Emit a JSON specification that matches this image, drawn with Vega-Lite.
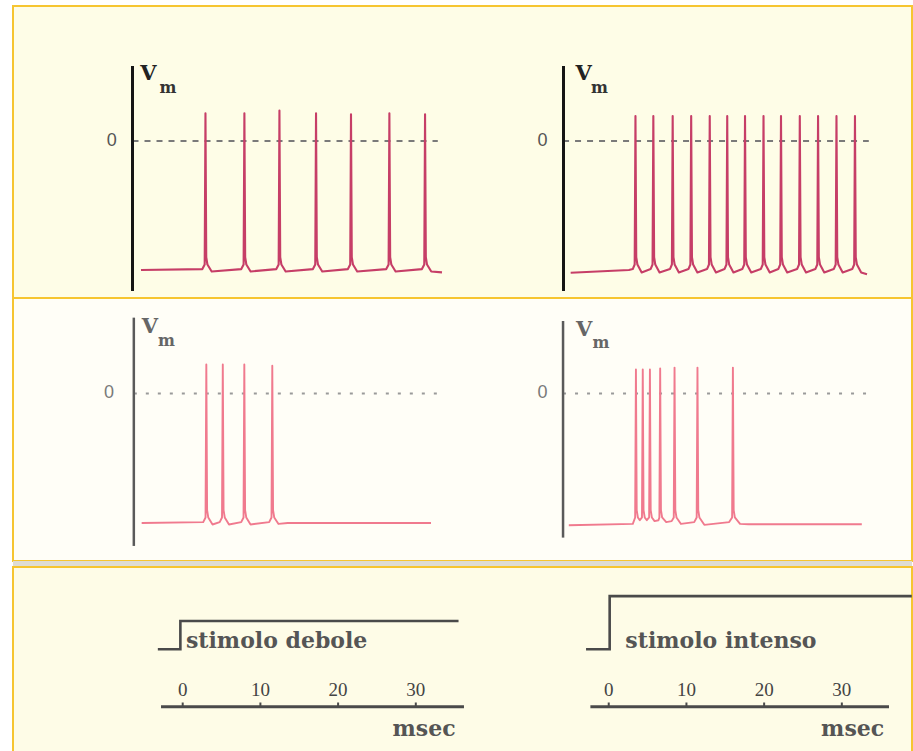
{
  "$schema": "https://vega.github.io/schema/vega-lite/v6.json",
  "background": "white",
  "padding": {"left": 12, "top": 5, "right": 2, "bottom": 0},
  "bounds": "flush",
  "spacing": 0,
  "config": {"view": {"stroke": null}},
  "datasets": {
    "traces": [
      {"p":"A","t":-5.37,"v":-70},
      {"p":"A","t":2.53,"v":-69.5},{"p":"A","t":2.83,"v":-67},{"p":"A","t":2.93,"v":15},{"p":"A","t":3.03,"v":-63},{"p":"A","t":3.18,"v":-67},{"p":"A","t":3.73,"v":-70.8},
      {"p":"A","t":7.54,"v":-69.5},{"p":"A","t":7.84,"v":-67},{"p":"A","t":7.94,"v":15},{"p":"A","t":8.04,"v":-63},{"p":"A","t":8.19,"v":-67},{"p":"A","t":8.74,"v":-70.8},
      {"p":"A","t":12.05,"v":-69.5},{"p":"A","t":12.35,"v":-67},{"p":"A","t":12.45,"v":16.5},{"p":"A","t":12.55,"v":-63},{"p":"A","t":12.7,"v":-67},{"p":"A","t":13.25,"v":-70.8},
      {"p":"A","t":16.76,"v":-69.5},{"p":"A","t":17.06,"v":-67},{"p":"A","t":17.16,"v":15},{"p":"A","t":17.26,"v":-63},{"p":"A","t":17.41,"v":-67},{"p":"A","t":17.96,"v":-70.8},
      {"p":"A","t":21.26,"v":-69.5},{"p":"A","t":21.56,"v":-67},{"p":"A","t":21.66,"v":14.5},{"p":"A","t":21.76,"v":-63},{"p":"A","t":21.91,"v":-67},{"p":"A","t":22.46,"v":-70.8},
      {"p":"A","t":26.2,"v":-69.5},{"p":"A","t":26.5,"v":-67},{"p":"A","t":26.6,"v":15},{"p":"A","t":26.7,"v":-63},{"p":"A","t":26.85,"v":-67},{"p":"A","t":27.4,"v":-70.8},
      {"p":"A","t":30.79,"v":-69.5},{"p":"A","t":31.09,"v":-67},{"p":"A","t":31.19,"v":14.5},{"p":"A","t":31.29,"v":-63},{"p":"A","t":31.44,"v":-67},{"p":"A","t":31.99,"v":-70.8},
      {"p":"A","t":33.37,"v":-71.3},

      {"p":"B","t":-4.9,"v":-71.5},{"p":"B","t":2.6,"v":-70},
      {"p":"B","t":3.09,"v":-69.5},{"p":"B","t":3.34,"v":-67},{"p":"B","t":3.44,"v":13.5},{"p":"B","t":3.54,"v":-63},{"p":"B","t":3.69,"v":-67},{"p":"B","t":4.24,"v":-71.3},
      {"p":"B","t":5.39,"v":-69.5},{"p":"B","t":5.64,"v":-67},{"p":"B","t":5.74,"v":13.5},{"p":"B","t":5.84,"v":-63},{"p":"B","t":5.99,"v":-67},{"p":"B","t":6.54,"v":-71.3},
      {"p":"B","t":7.88,"v":-69.5},{"p":"B","t":8.13,"v":-67},{"p":"B","t":8.23,"v":13.5},{"p":"B","t":8.33,"v":-63},{"p":"B","t":8.48,"v":-67},{"p":"B","t":9.03,"v":-71.3},
      {"p":"B","t":10.26,"v":-69.5},{"p":"B","t":10.51,"v":-67},{"p":"B","t":10.61,"v":13.5},{"p":"B","t":10.71,"v":-63},{"p":"B","t":10.86,"v":-67},{"p":"B","t":11.41,"v":-71.3},
      {"p":"B","t":12.65,"v":-69.5},{"p":"B","t":12.9,"v":-67},{"p":"B","t":13.0,"v":13.5},{"p":"B","t":13.1,"v":-63},{"p":"B","t":13.25,"v":-67},{"p":"B","t":13.8,"v":-71.3},
      {"p":"B","t":14.9,"v":-69.5},{"p":"B","t":15.15,"v":-67},{"p":"B","t":15.25,"v":13.5},{"p":"B","t":15.35,"v":-63},{"p":"B","t":15.5,"v":-67},{"p":"B","t":16.05,"v":-71.3},
      {"p":"B","t":17.19,"v":-69.5},{"p":"B","t":17.44,"v":-67},{"p":"B","t":17.54,"v":13.5},{"p":"B","t":17.64,"v":-63},{"p":"B","t":17.79,"v":-67},{"p":"B","t":18.34,"v":-71.3},
      {"p":"B","t":19.57,"v":-69.5},{"p":"B","t":19.82,"v":-67},{"p":"B","t":19.92,"v":13.5},{"p":"B","t":20.02,"v":-63},{"p":"B","t":20.17,"v":-67},{"p":"B","t":20.72,"v":-71.3},
      {"p":"B","t":21.82,"v":-69.5},{"p":"B","t":22.07,"v":-67},{"p":"B","t":22.17,"v":13.5},{"p":"B","t":22.27,"v":-63},{"p":"B","t":22.42,"v":-67},{"p":"B","t":22.97,"v":-71.3},
      {"p":"B","t":24.24,"v":-69.5},{"p":"B","t":24.49,"v":-67},{"p":"B","t":24.59,"v":13.5},{"p":"B","t":24.69,"v":-63},{"p":"B","t":24.84,"v":-67},{"p":"B","t":25.39,"v":-71.3},
      {"p":"B","t":26.59,"v":-69.5},{"p":"B","t":26.84,"v":-67},{"p":"B","t":26.94,"v":13.5},{"p":"B","t":27.04,"v":-63},{"p":"B","t":27.19,"v":-67},{"p":"B","t":27.74,"v":-71.3},
      {"p":"B","t":28.96,"v":-69.5},{"p":"B","t":29.21,"v":-67},{"p":"B","t":29.31,"v":13.5},{"p":"B","t":29.41,"v":-63},{"p":"B","t":29.56,"v":-67},{"p":"B","t":30.11,"v":-71.3},
      {"p":"B","t":31.34,"v":-69.5},{"p":"B","t":31.59,"v":-67},{"p":"B","t":31.69,"v":13.5},{"p":"B","t":31.79,"v":-63},{"p":"B","t":31.94,"v":-67},{"p":"B","t":32.49,"v":-71.3},
      {"p":"B","t":33.24,"v":-72.3},

      {"p":"C","t":-5.28,"v":-70},
      {"p":"C","t":2.64,"v":-69.5},{"p":"C","t":2.94,"v":-67},{"p":"C","t":3.04,"v":15.7},{"p":"C","t":3.14,"v":-63},{"p":"C","t":3.29,"v":-67},{"p":"C","t":3.84,"v":-70.8},
      {"p":"C","t":4.76,"v":-69.5},{"p":"C","t":5.06,"v":-67},{"p":"C","t":5.16,"v":15.7},{"p":"C","t":5.26,"v":-63},{"p":"C","t":5.41,"v":-67},{"p":"C","t":5.96,"v":-70.8},
      {"p":"C","t":7.53,"v":-69.5},{"p":"C","t":7.83,"v":-67},{"p":"C","t":7.93,"v":15.7},{"p":"C","t":8.03,"v":-63},{"p":"C","t":8.18,"v":-67},{"p":"C","t":8.73,"v":-70.8},
      {"p":"C","t":11.13,"v":-69.5},{"p":"C","t":11.43,"v":-67},{"p":"C","t":11.53,"v":15},{"p":"C","t":11.63,"v":-63},{"p":"C","t":11.78,"v":-67},{"p":"C","t":12.33,"v":-70.5},
      {"p":"C","t":13.5,"v":-70},{"p":"C","t":31.96,"v":-70},

      {"p":"D","t":-5.14,"v":-71.2},{"p":"D","t":3.1,"v":-70.5},
      {"p":"D","t":3.4,"v":-67},{"p":"D","t":3.5,"v":13},{"p":"D","t":3.6,"v":-63},{"p":"D","t":3.75,"v":-67},{"p":"D","t":4.0,"v":-68.5},
      {"p":"D","t":4.28,"v":-67},{"p":"D","t":4.38,"v":13},{"p":"D","t":4.48,"v":-63},{"p":"D","t":4.63,"v":-67},{"p":"D","t":4.9,"v":-68.5},
      {"p":"D","t":5.2,"v":-67},{"p":"D","t":5.3,"v":13},{"p":"D","t":5.4,"v":-63},{"p":"D","t":5.55,"v":-67},{"p":"D","t":5.9,"v":-69},
      {"p":"D","t":6.4,"v":-68.5},{"p":"D","t":6.52,"v":-67},{"p":"D","t":6.62,"v":13.5},{"p":"D","t":6.72,"v":-63},{"p":"D","t":6.87,"v":-67},{"p":"D","t":7.4,"v":-69.5},
      {"p":"D","t":8.1,"v":-69},{"p":"D","t":8.37,"v":-67},{"p":"D","t":8.47,"v":14},{"p":"D","t":8.57,"v":-63},{"p":"D","t":8.72,"v":-67},{"p":"D","t":9.3,"v":-70.5},
      {"p":"D","t":11.0,"v":-69.5},{"p":"D","t":11.32,"v":-67},{"p":"D","t":11.42,"v":14},{"p":"D","t":11.52,"v":-63},{"p":"D","t":11.67,"v":-67},{"p":"D","t":12.3,"v":-71},
      {"p":"D","t":15.5,"v":-69.5},{"p":"D","t":15.88,"v":-67},{"p":"D","t":15.98,"v":14},{"p":"D","t":16.08,"v":-63},{"p":"D","t":16.23,"v":-67},{"p":"D","t":16.9,"v":-70.5},
      {"p":"D","t":18.0,"v":-70.7},{"p":"D","t":32.57,"v":-70.7}
    ],
    "zero": [
      {"p":"A","t0":-6.46,"t1":32.83,"v":0},
      {"p":"B","t0":-5.88,"t1":33.47,"v":0},
      {"p":"C","t0":-6.29,"t1":32.83,"v":0},
      {"p":"D","t0":-5.88,"t1":33.47,"v":0}
    ],
    "vaxis": [
      {"p":"A","t":-6.46,"v1":40.7,"v2":-81.4},
      {"p":"B","t":-5.82,"v1":40.7,"v2":-81.4},
      {"p":"C","t":-6.29,"v1":41,"v2":-82.4},
      {"p":"D","t":-5.88,"v1":39.2,"v2":-77.9}
    ],
    "zlabel": [
      {"p":"A","t":-9.12,"v":0,"label":"0"},
      {"p":"B","t":-8.51,"v":0,"label":"0"},
      {"p":"C","t":-9.48,"v":0,"label":"0"},
      {"p":"D","t":-8.51,"v":0,"label":"0"}
    ],
    "vlabel": [
      {"p":"A","t":-4.4,"v":36.6,"label":"V"},
      {"p":"B","t":-3.24,"v":36.6,"label":"V"},
      {"p":"C","t":-4.21,"v":36.2,"label":"V"},
      {"p":"D","t":-3.18,"v":34.3,"label":"V"}
    ],
    "mlabel": [
      {"p":"A","t":-1.89,"v":28.9,"label":"m"},
      {"p":"B","t":-1.18,"v":28.9,"label":"m"},
      {"p":"C","t":-2.08,"v":28.4,"label":"m"},
      {"p":"D","t":-0.99,"v":27.3,"label":"m"}
    ],
    "stim": [
      {"p":"E","i":1,"t":-3.2,"v":0},{"p":"E","i":2,"t":-0.3,"v":0},{"p":"E","i":3,"t":-0.3,"v":1},{"p":"E","i":4,"t":35.5,"v":1},
      {"p":"F","i":1,"t":-2.92,"v":0},{"p":"F","i":2,"t":0.12,"v":0},{"p":"F","i":3,"t":0.12,"v":1.88},{"p":"F","i":4,"t":39.0,"v":1.88}
    ],
    "taxis": [
      {"p":"E","t0":-2.79,"t1":36.2,"v":-2.03},
      {"p":"F","t0":-2.36,"t1":36.07,"v":-2.03}
    ],
    "ticks": [
      {"p":"E","t":0,"v1":-1.88,"v2":-2.03,"label":"0"},{"p":"E","t":10,"v1":-1.88,"v2":-2.03,"label":"10"},{"p":"E","t":20,"v1":-1.88,"v2":-2.03,"label":"20"},{"p":"E","t":30,"v1":-1.88,"v2":-2.03,"label":"30"},
      {"p":"F","t":0,"v1":-1.88,"v2":-2.03,"label":"0"},{"p":"F","t":10,"v1":-1.88,"v2":-2.03,"label":"10"},{"p":"F","t":20,"v1":-1.88,"v2":-2.03,"label":"20"},{"p":"F","t":30,"v1":-1.88,"v2":-2.03,"label":"30"}
    ],
    "stext": [
      {"p":"E","t":0.42,"v":0.29,"label":"stimolo debole"},
      {"p":"F","t":2.14,"v":0.29,"label":"stimolo intenso"}
    ],
    "msec": [
      {"p":"E","t":31.06,"v":-2.82,"label":"msec"},
      {"p":"F","t":31.39,"v":-2.82,"label":"msec"}
    ]
  },
  "vconcat": [
    {
      "width": 899, "height": 292,
      "view": {"fill": "#fefde7", "stroke": "#f6c531", "strokeWidth": 2},
      "resolve": {"scale": {"x": "independent"}},
      "layer": [
        {"data": {"name": "zero"}, "transform": [{"filter": "datum.p == 'A'"}],
         "mark": {"type": "rule", "color": "#7a7a7a", "strokeWidth": 2, "strokeDash": [6, 6]},
         "encoding": {"x": {"field": "t0", "type": "quantitative", "scale": {"domain": [-21.84, 93.86], "nice": false, "zero": false}, "axis": null}, "x2": {"field": "t1"},
                      "y": {"field": "v", "type": "quantitative", "scale": {"domain": [-85.19, 73.25], "nice": false, "zero": false}, "axis": null}}},
        {"data": {"name": "zero"}, "transform": [{"filter": "datum.p == 'B'"}],
         "mark": {"type": "rule", "color": "#7a7a7a", "strokeWidth": 2, "strokeDash": [6, 6]},
         "encoding": {"x": {"field": "t0", "type": "quantitative", "scale": {"domain": [-76.67, 39.03], "nice": false, "zero": false}, "axis": null}, "x2": {"field": "t1"},
                      "y": {"field": "v", "type": "quantitative", "scale": {"domain": [-85.19, 73.25], "nice": false, "zero": false}, "axis": null}}},
        {"data": {"name": "vaxis"}, "transform": [{"filter": "datum.p == 'A'"}],
         "mark": {"type": "rule", "color": "#151515", "strokeWidth": 3},
         "encoding": {"x": {"field": "t", "type": "quantitative", "scale": {"domain": [-21.84, 93.86], "nice": false, "zero": false}, "axis": null},
                      "y": {"field": "v1", "type": "quantitative", "scale": {"domain": [-85.19, 73.25], "nice": false, "zero": false}, "axis": null}, "y2": {"field": "v2"}}},
        {"data": {"name": "vaxis"}, "transform": [{"filter": "datum.p == 'B'"}],
         "mark": {"type": "rule", "color": "#151515", "strokeWidth": 3},
         "encoding": {"x": {"field": "t", "type": "quantitative", "scale": {"domain": [-76.67, 39.03], "nice": false, "zero": false}, "axis": null},
                      "y": {"field": "v1", "type": "quantitative", "scale": {"domain": [-85.19, 73.25], "nice": false, "zero": false}, "axis": null}, "y2": {"field": "v2"}}},
        {"data": {"name": "traces"}, "transform": [{"filter": "datum.p == 'A'"}],
         "mark": {"type": "line", "color": "#c63e67", "strokeWidth": 2.1, "strokeJoin": "round"},
         "encoding": {"x": {"field": "t", "type": "quantitative", "scale": {"domain": [-21.84, 93.86], "nice": false, "zero": false}, "axis": null},
                      "y": {"field": "v", "type": "quantitative", "scale": {"domain": [-85.19, 73.25], "nice": false, "zero": false}, "axis": null}}},
        {"data": {"name": "traces"}, "transform": [{"filter": "datum.p == 'B'"}],
         "mark": {"type": "line", "color": "#c63e67", "strokeWidth": 2.1, "strokeJoin": "round"},
         "encoding": {"x": {"field": "t", "type": "quantitative", "scale": {"domain": [-76.67, 39.03], "nice": false, "zero": false}, "axis": null},
                      "y": {"field": "v", "type": "quantitative", "scale": {"domain": [-85.19, 73.25], "nice": false, "zero": false}, "axis": null}}},
        {"data": {"name": "zlabel"}, "transform": [{"filter": "datum.p == 'A'"}],
         "mark": {"type": "text", "font": "Liberation Sans", "fontSize": 18, "color": "#555", "align": "center", "baseline": "middle"},
         "encoding": {"x": {"field": "t", "type": "quantitative", "scale": {"domain": [-21.84, 93.86], "nice": false, "zero": false}, "axis": null},
                      "y": {"field": "v", "type": "quantitative", "scale": {"domain": [-85.19, 73.25], "nice": false, "zero": false}, "axis": null}, "text": {"field": "label"}}},
        {"data": {"name": "zlabel"}, "transform": [{"filter": "datum.p == 'B'"}],
         "mark": {"type": "text", "font": "Liberation Sans", "fontSize": 18, "color": "#555", "align": "center", "baseline": "middle"},
         "encoding": {"x": {"field": "t", "type": "quantitative", "scale": {"domain": [-76.67, 39.03], "nice": false, "zero": false}, "axis": null},
                      "y": {"field": "v", "type": "quantitative", "scale": {"domain": [-85.19, 73.25], "nice": false, "zero": false}, "axis": null}, "text": {"field": "label"}}},
        {"data": {"name": "vlabel"}, "transform": [{"filter": "datum.p == 'A'"}],
         "mark": {"type": "text", "font": "DejaVu Serif", "fontWeight": "bold", "fontSize": 21, "color": "#222", "align": "center", "baseline": "middle"},
         "encoding": {"x": {"field": "t", "type": "quantitative", "scale": {"domain": [-21.84, 93.86], "nice": false, "zero": false}, "axis": null},
                      "y": {"field": "v", "type": "quantitative", "scale": {"domain": [-85.19, 73.25], "nice": false, "zero": false}, "axis": null}, "text": {"field": "label"}}},
        {"data": {"name": "vlabel"}, "transform": [{"filter": "datum.p == 'B'"}],
         "mark": {"type": "text", "font": "DejaVu Serif", "fontWeight": "bold", "fontSize": 21, "color": "#222", "align": "center", "baseline": "middle"},
         "encoding": {"x": {"field": "t", "type": "quantitative", "scale": {"domain": [-76.67, 39.03], "nice": false, "zero": false}, "axis": null},
                      "y": {"field": "v", "type": "quantitative", "scale": {"domain": [-85.19, 73.25], "nice": false, "zero": false}, "axis": null}, "text": {"field": "label"}}},
        {"data": {"name": "mlabel"}, "transform": [{"filter": "datum.p == 'A'"}],
         "mark": {"type": "text", "font": "DejaVu Serif", "fontWeight": "bold", "fontSize": 16, "color": "#333", "align": "center", "baseline": "middle"},
         "encoding": {"x": {"field": "t", "type": "quantitative", "scale": {"domain": [-21.84, 93.86], "nice": false, "zero": false}, "axis": null},
                      "y": {"field": "v", "type": "quantitative", "scale": {"domain": [-85.19, 73.25], "nice": false, "zero": false}, "axis": null}, "text": {"field": "label"}}},
        {"data": {"name": "mlabel"}, "transform": [{"filter": "datum.p == 'B'"}],
         "mark": {"type": "text", "font": "DejaVu Serif", "fontWeight": "bold", "fontSize": 16, "color": "#333", "align": "center", "baseline": "middle"},
         "encoding": {"x": {"field": "t", "type": "quantitative", "scale": {"domain": [-76.67, 39.03], "nice": false, "zero": false}, "axis": null},
                      "y": {"field": "v", "type": "quantitative", "scale": {"domain": [-85.19, 73.25], "nice": false, "zero": false}, "axis": null}, "text": {"field": "label"}}}
      ]
    },
    {
      "width": 899, "height": 263,
      "view": {"fill": "#fffef7", "stroke": "#f6c531", "strokeWidth": 2},
      "resolve": {"scale": {"x": "independent"}},
      "layer": [
        {"data": {"name": "zero"}, "transform": [{"filter": "datum.p == 'C'"}],
         "mark": {"type": "rule", "color": "#9a9a9a", "strokeWidth": 2, "strokeDash": [3, 9]},
         "encoding": {"x": {"field": "t0", "type": "quantitative", "scale": {"domain": [-21.84, 93.86], "nice": false, "zero": false}, "axis": null}, "x2": {"field": "t1"},
                      "y": {"field": "v", "type": "quantitative", "scale": {"domain": [-90.54, 51.62], "nice": false, "zero": false}, "axis": null}}},
        {"data": {"name": "zero"}, "transform": [{"filter": "datum.p == 'D'"}],
         "mark": {"type": "rule", "color": "#9a9a9a", "strokeWidth": 2, "strokeDash": [3, 9]},
         "encoding": {"x": {"field": "t0", "type": "quantitative", "scale": {"domain": [-76.67, 39.03], "nice": false, "zero": false}, "axis": null}, "x2": {"field": "t1"},
                      "y": {"field": "v", "type": "quantitative", "scale": {"domain": [-90.54, 51.62], "nice": false, "zero": false}, "axis": null}}},
        {"data": {"name": "vaxis"}, "transform": [{"filter": "datum.p == 'C'"}],
         "mark": {"type": "rule", "color": "#5a5a5a", "strokeWidth": 2.5},
         "encoding": {"x": {"field": "t", "type": "quantitative", "scale": {"domain": [-21.84, 93.86], "nice": false, "zero": false}, "axis": null},
                      "y": {"field": "v1", "type": "quantitative", "scale": {"domain": [-90.54, 51.62], "nice": false, "zero": false}, "axis": null}, "y2": {"field": "v2"}}},
        {"data": {"name": "vaxis"}, "transform": [{"filter": "datum.p == 'D'"}],
         "mark": {"type": "rule", "color": "#5a5a5a", "strokeWidth": 2.5},
         "encoding": {"x": {"field": "t", "type": "quantitative", "scale": {"domain": [-76.67, 39.03], "nice": false, "zero": false}, "axis": null},
                      "y": {"field": "v1", "type": "quantitative", "scale": {"domain": [-90.54, 51.62], "nice": false, "zero": false}, "axis": null}, "y2": {"field": "v2"}}},
        {"data": {"name": "traces"}, "transform": [{"filter": "datum.p == 'C'"}],
         "mark": {"type": "line", "color": "#f07a8e", "strokeWidth": 1.9, "strokeJoin": "round"},
         "encoding": {"x": {"field": "t", "type": "quantitative", "scale": {"domain": [-21.84, 93.86], "nice": false, "zero": false}, "axis": null},
                      "y": {"field": "v", "type": "quantitative", "scale": {"domain": [-90.54, 51.62], "nice": false, "zero": false}, "axis": null}}},
        {"data": {"name": "traces"}, "transform": [{"filter": "datum.p == 'D'"}],
         "mark": {"type": "line", "color": "#f07a8e", "strokeWidth": 1.9, "strokeJoin": "round"},
         "encoding": {"x": {"field": "t", "type": "quantitative", "scale": {"domain": [-76.67, 39.03], "nice": false, "zero": false}, "axis": null},
                      "y": {"field": "v", "type": "quantitative", "scale": {"domain": [-90.54, 51.62], "nice": false, "zero": false}, "axis": null}}},
        {"data": {"name": "zlabel"}, "transform": [{"filter": "datum.p == 'C'"}],
         "mark": {"type": "text", "font": "Liberation Sans", "fontSize": 18, "color": "#7a7a7a", "align": "center", "baseline": "middle"},
         "encoding": {"x": {"field": "t", "type": "quantitative", "scale": {"domain": [-21.84, 93.86], "nice": false, "zero": false}, "axis": null},
                      "y": {"field": "v", "type": "quantitative", "scale": {"domain": [-90.54, 51.62], "nice": false, "zero": false}, "axis": null}, "text": {"field": "label"}}},
        {"data": {"name": "zlabel"}, "transform": [{"filter": "datum.p == 'D'"}],
         "mark": {"type": "text", "font": "Liberation Sans", "fontSize": 18, "color": "#7a7a7a", "align": "center", "baseline": "middle"},
         "encoding": {"x": {"field": "t", "type": "quantitative", "scale": {"domain": [-76.67, 39.03], "nice": false, "zero": false}, "axis": null},
                      "y": {"field": "v", "type": "quantitative", "scale": {"domain": [-90.54, 51.62], "nice": false, "zero": false}, "axis": null}, "text": {"field": "label"}}},
        {"data": {"name": "vlabel"}, "transform": [{"filter": "datum.p == 'C'"}],
         "mark": {"type": "text", "font": "DejaVu Serif", "fontWeight": "bold", "fontSize": 21, "color": "#666", "align": "center", "baseline": "middle"},
         "encoding": {"x": {"field": "t", "type": "quantitative", "scale": {"domain": [-21.84, 93.86], "nice": false, "zero": false}, "axis": null},
                      "y": {"field": "v", "type": "quantitative", "scale": {"domain": [-90.54, 51.62], "nice": false, "zero": false}, "axis": null}, "text": {"field": "label"}}},
        {"data": {"name": "vlabel"}, "transform": [{"filter": "datum.p == 'D'"}],
         "mark": {"type": "text", "font": "DejaVu Serif", "fontWeight": "bold", "fontSize": 21, "color": "#666", "align": "center", "baseline": "middle"},
         "encoding": {"x": {"field": "t", "type": "quantitative", "scale": {"domain": [-76.67, 39.03], "nice": false, "zero": false}, "axis": null},
                      "y": {"field": "v", "type": "quantitative", "scale": {"domain": [-90.54, 51.62], "nice": false, "zero": false}, "axis": null}, "text": {"field": "label"}}},
        {"data": {"name": "mlabel"}, "transform": [{"filter": "datum.p == 'C'"}],
         "mark": {"type": "text", "font": "DejaVu Serif", "fontWeight": "bold", "fontSize": 16, "color": "#666", "align": "center", "baseline": "middle"},
         "encoding": {"x": {"field": "t", "type": "quantitative", "scale": {"domain": [-21.84, 93.86], "nice": false, "zero": false}, "axis": null},
                      "y": {"field": "v", "type": "quantitative", "scale": {"domain": [-90.54, 51.62], "nice": false, "zero": false}, "axis": null}, "text": {"field": "label"}}},
        {"data": {"name": "mlabel"}, "transform": [{"filter": "datum.p == 'D'"}],
         "mark": {"type": "text", "font": "DejaVu Serif", "fontWeight": "bold", "fontSize": 16, "color": "#666", "align": "center", "baseline": "middle"},
         "encoding": {"x": {"field": "t", "type": "quantitative", "scale": {"domain": [-76.67, 39.03], "nice": false, "zero": false}, "axis": null},
                      "y": {"field": "v", "type": "quantitative", "scale": {"domain": [-90.54, 51.62], "nice": false, "zero": false}, "axis": null}, "text": {"field": "label"}}}
      ]
    },
    {
      "width": 899, "height": 6,
      "view": {"fill": "#dedcd4", "stroke": null},
      "data": {"values": [{"a": 1}]},
      "mark": {"type": "point", "opacity": 0},
      "encoding": {}
    },
    {
      "width": 899, "height": 185,
      "view": {"fill": "#fefce7", "stroke": "#f6c531", "strokeWidth": 2},
      "resolve": {"scale": {"x": "independent"}},
      "layer": [
        {"data": {"name": "stim"}, "transform": [{"filter": "datum.p == 'E'"}],
         "mark": {"type": "line", "color": "#4a4a4a", "strokeWidth": 2.6},
         "encoding": {"x": {"field": "t", "type": "quantitative", "scale": {"domain": [-21.84, 93.86], "nice": false, "zero": false}, "axis": null},
                      "y": {"field": "v", "type": "quantitative", "scale": {"domain": [-3.63, 2.91], "nice": false, "zero": false}, "axis": null},
                      "order": {"field": "i", "type": "quantitative"}}},
        {"data": {"name": "stim"}, "transform": [{"filter": "datum.p == 'F'"}],
         "mark": {"type": "line", "color": "#4a4a4a", "strokeWidth": 2.6},
         "encoding": {"x": {"field": "t", "type": "quantitative", "scale": {"domain": [-76.67, 39.03], "nice": false, "zero": false}, "axis": null},
                      "y": {"field": "v", "type": "quantitative", "scale": {"domain": [-3.63, 2.91], "nice": false, "zero": false}, "axis": null},
                      "order": {"field": "i", "type": "quantitative"}}},
        {"data": {"name": "taxis"}, "transform": [{"filter": "datum.p == 'E'"}],
         "mark": {"type": "rule", "color": "#4a4a4a", "strokeWidth": 3},
         "encoding": {"x": {"field": "t0", "type": "quantitative", "scale": {"domain": [-21.84, 93.86], "nice": false, "zero": false}, "axis": null}, "x2": {"field": "t1"},
                      "y": {"field": "v", "type": "quantitative", "scale": {"domain": [-3.63, 2.91], "nice": false, "zero": false}, "axis": null}}},
        {"data": {"name": "taxis"}, "transform": [{"filter": "datum.p == 'F'"}],
         "mark": {"type": "rule", "color": "#4a4a4a", "strokeWidth": 3},
         "encoding": {"x": {"field": "t0", "type": "quantitative", "scale": {"domain": [-76.67, 39.03], "nice": false, "zero": false}, "axis": null}, "x2": {"field": "t1"},
                      "y": {"field": "v", "type": "quantitative", "scale": {"domain": [-3.63, 2.91], "nice": false, "zero": false}, "axis": null}}},
        {"data": {"name": "ticks"}, "transform": [{"filter": "datum.p == 'E'"}],
         "mark": {"type": "rule", "color": "#4a4a4a", "strokeWidth": 2},
         "encoding": {"x": {"field": "t", "type": "quantitative", "scale": {"domain": [-21.84, 93.86], "nice": false, "zero": false}, "axis": null},
                      "y": {"field": "v1", "type": "quantitative", "scale": {"domain": [-3.63, 2.91], "nice": false, "zero": false}, "axis": null}, "y2": {"field": "v2"}}},
        {"data": {"name": "ticks"}, "transform": [{"filter": "datum.p == 'F'"}],
         "mark": {"type": "rule", "color": "#4a4a4a", "strokeWidth": 2},
         "encoding": {"x": {"field": "t", "type": "quantitative", "scale": {"domain": [-76.67, 39.03], "nice": false, "zero": false}, "axis": null},
                      "y": {"field": "v1", "type": "quantitative", "scale": {"domain": [-3.63, 2.91], "nice": false, "zero": false}, "axis": null}, "y2": {"field": "v2"}}},
        {"data": {"name": "ticks"}, "transform": [{"filter": "datum.p == 'E'"}],
         "mark": {"type": "text", "font": "Liberation Serif", "fontSize": 19, "color": "#444", "align": "center", "baseline": "middle", "dy": -17},
         "encoding": {"x": {"field": "t", "type": "quantitative", "scale": {"domain": [-21.84, 93.86], "nice": false, "zero": false}, "axis": null},
                      "y": {"field": "v2", "type": "quantitative", "scale": {"domain": [-3.63, 2.91], "nice": false, "zero": false}, "axis": null}, "text": {"field": "label"}}},
        {"data": {"name": "ticks"}, "transform": [{"filter": "datum.p == 'F'"}],
         "mark": {"type": "text", "font": "Liberation Serif", "fontSize": 19, "color": "#444", "align": "center", "baseline": "middle", "dy": -17},
         "encoding": {"x": {"field": "t", "type": "quantitative", "scale": {"domain": [-76.67, 39.03], "nice": false, "zero": false}, "axis": null},
                      "y": {"field": "v2", "type": "quantitative", "scale": {"domain": [-3.63, 2.91], "nice": false, "zero": false}, "axis": null}, "text": {"field": "label"}}},
        {"data": {"name": "stext"}, "transform": [{"filter": "datum.p == 'E'"}],
         "mark": {"type": "text", "font": "DejaVu Serif", "fontWeight": "bold", "fontSize": 22, "color": "#555", "align": "left", "baseline": "middle"},
         "encoding": {"x": {"field": "t", "type": "quantitative", "scale": {"domain": [-21.84, 93.86], "nice": false, "zero": false}, "axis": null},
                      "y": {"field": "v", "type": "quantitative", "scale": {"domain": [-3.63, 2.91], "nice": false, "zero": false}, "axis": null}, "text": {"field": "label"}}},
        {"data": {"name": "stext"}, "transform": [{"filter": "datum.p == 'F'"}],
         "mark": {"type": "text", "font": "DejaVu Serif", "fontWeight": "bold", "fontSize": 22, "color": "#555", "align": "left", "baseline": "middle"},
         "encoding": {"x": {"field": "t", "type": "quantitative", "scale": {"domain": [-76.67, 39.03], "nice": false, "zero": false}, "axis": null},
                      "y": {"field": "v", "type": "quantitative", "scale": {"domain": [-3.63, 2.91], "nice": false, "zero": false}, "axis": null}, "text": {"field": "label"}}},
        {"data": {"name": "msec"}, "transform": [{"filter": "datum.p == 'E'"}],
         "mark": {"type": "text", "font": "DejaVu Serif", "fontWeight": "bold", "fontSize": 22, "color": "#555", "align": "center", "baseline": "middle"},
         "encoding": {"x": {"field": "t", "type": "quantitative", "scale": {"domain": [-21.84, 93.86], "nice": false, "zero": false}, "axis": null},
                      "y": {"field": "v", "type": "quantitative", "scale": {"domain": [-3.63, 2.91], "nice": false, "zero": false}, "axis": null}, "text": {"field": "label"}}},
        {"data": {"name": "msec"}, "transform": [{"filter": "datum.p == 'F'"}],
         "mark": {"type": "text", "font": "DejaVu Serif", "fontWeight": "bold", "fontSize": 22, "color": "#555", "align": "center", "baseline": "middle"},
         "encoding": {"x": {"field": "t", "type": "quantitative", "scale": {"domain": [-76.67, 39.03], "nice": false, "zero": false}, "axis": null},
                      "y": {"field": "v", "type": "quantitative", "scale": {"domain": [-3.63, 2.91], "nice": false, "zero": false}, "axis": null}, "text": {"field": "label"}}}
      ]
    }
  ]
}
